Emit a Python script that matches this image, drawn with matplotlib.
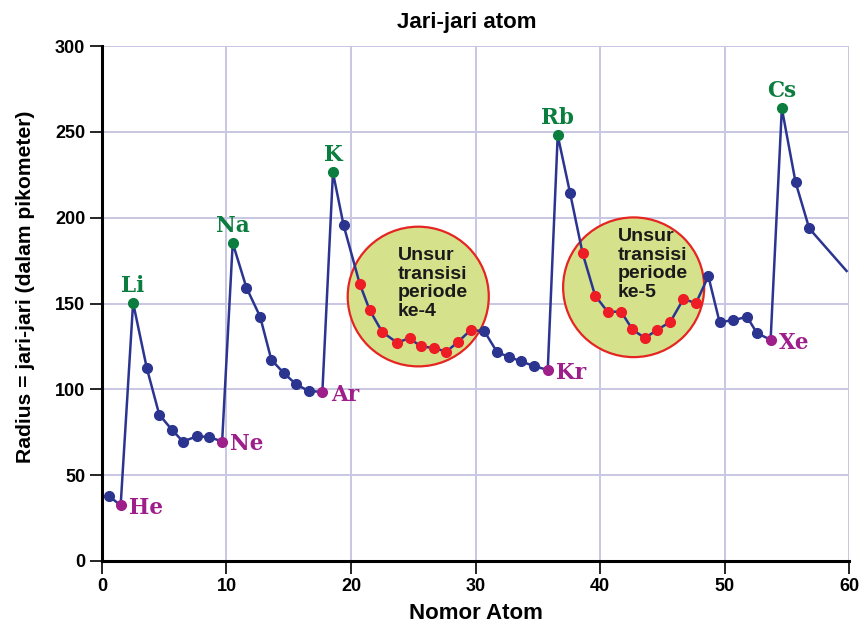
import matplotlib
matplotlib.use("Agg")
import matplotlib.pyplot as plt
from matplotlib.patches import Ellipse

# ---------------- data ----------------
unsur = ["H", "He", "Li", "Be", "B", "C", "N", "O", "F", "Ne",
         "Na", "Mg", "Al", "Si", "P", "S", "Cl", "Ar",
         "K", "Ca", "Sc", "Ti", "V", "Cr", "Mn", "Fe", "Co", "Ni", "Cu", "Zn",
         "Ga", "Ge", "As", "Se", "Br", "Kr",
         "Rb", "Sr", "Y", "Zr", "Nb", "Mo", "Tc", "Ru", "Rh", "Pd", "Ag", "Cd",
         "In", "Sn", "Sb", "Te", "I", "Xe",
         "Cs", "Ba", "La"]
nomor_atom = [0.6, 1.5, 2.5, 3.6, 4.6, 5.6, 6.5, 7.6, 8.6, 9.65,
              10.5, 11.6, 12.7, 13.6, 14.6, 15.6, 16.6, 17.7,
              18.55, 19.4, 20.7, 21.5, 22.5, 23.7, 24.7, 25.6, 26.7, 27.65, 28.6, 29.6,
              30.7, 31.75, 32.7, 33.65, 34.7, 35.8,
              36.6, 37.6, 38.6, 39.6, 40.6, 41.7, 42.6, 43.6, 44.6, 45.65, 46.7, 47.7,
              48.7, 49.6, 50.7, 51.8, 52.6, 53.7,
              54.6, 55.7, 56.8]
radius = [37.6, 32.4, 150.5, 112.4, 85.3, 76.6, 69.6, 72.6, 72.3, 69.6,
          185.3, 159.3, 142.4, 117.3, 109.5, 102.9, 99.1, 98.5,
          226.4, 195.8, 161.5, 146.2, 133.5, 127.2, 129.9, 125.0, 124.1, 121.9, 127.7, 134.5,
          134.0, 121.5, 119.0, 116.3, 113.6, 111.3,
          248.1, 214.2, 179.3, 154.7, 145.3, 145.2, 134.9, 129.9, 134.7, 139.4, 152.7, 150.2,
          165.9, 139.2, 140.3, 142.3, 132.8, 128.9,
          263.8, 220.8, 193.8]
# line continues toward the right edge
ekor_x = [59.8]
ekor_y = [169.0]

logam_alkali = ["Li", "Na", "K", "Rb", "Cs"]
gas_mulia = ["He", "Ne", "Ar", "Kr", "Xe"]
transisi = ["Sc", "Ti", "V", "Cr", "Mn", "Fe", "Co", "Ni", "Cu", "Zn",
            "Y", "Zr", "Nb", "Mo", "Tc", "Ru", "Rh", "Pd", "Ag", "Cd"]

# highlighted regions: circle centre and label
lingkaran_x = [25.4, 42.7]
lingkaran_y = [154.1, 159.5]
lingkaran_teks = ["Unsur\ntransisi\nperiode\nke-4", "Unsur\ntransisi\nperiode\nke-5"]
# label anchor (top-left) of each circle text
teks_x = [23.75, 41.45]
teks_y = [183.0, 194.0]

x_ticks = [0, 10, 20, 30, 40, 50, 60]
y_ticks = [0, 50, 100, 150, 200, 250, 300]

# ---------------- style ----------------
navy = "#2b3590"
merah = "#ee1c25"
hijau = "#0b7d3e"
ungu = "#9e1f8a"
grid_c = "#c9c6e3"

sans = ["Liberation Sans", "DejaVu Sans"]
serif = ["DejaVu Serif"]

fig = plt.figure(figsize=(8.62, 6.24), dpi=100)
ax = fig.add_axes([0.1183, 0.101, 0.8667, 0.825])

ax.set_xlim(0, 60)
ax.set_ylim(0, 300)
ax.set_xticks(x_ticks)
ax.set_yticks(y_ticks)
ax.grid(True, color=grid_c, linewidth=1.4, zorder=0)
ax.set_axisbelow(True)

for s in ["top", "right"]:
    ax.spines[s].set_visible(False)
for s in ["left", "bottom"]:
    ax.spines[s].set_linewidth(2.2)
    ax.spines[s].set_color("black")
ax.tick_params(axis="both", direction="out", length=9, width=1.2, color="black")
ax.tick_params(axis="y", pad=3)
ax.tick_params(axis="x", pad=3)
for lab in ax.get_xticklabels() + ax.get_yticklabels():
    lab.set_family(sans)
    lab.set_fontweight("bold")
    lab.set_fontsize(13)

# circles
for cx, cy, txt, tx, ty in zip(lingkaran_x, lingkaran_y, lingkaran_teks, teks_x, teks_y):
    e = Ellipse((cx, cy), width=11.33, height=81.4, facecolor="#d5e28b",
                edgecolor="#e52521", linewidth=1.6, zorder=2)
    ax.add_patch(e)
    ax.text(tx, ty, txt, family=sans, fontsize=14, fontweight="bold",
            color="#1a1a1a", ha="left", va="top", linespacing=1.13, zorder=3)

# line
ax.plot(nomor_atom + ekor_x, radius + ekor_y, color=navy, linewidth=1.8, zorder=4)

# markers
for nm, x, y in zip(unsur, nomor_atom, radius):
    if nm in logam_alkali:
        c = hijau
    elif nm in gas_mulia:
        c = ungu
    elif nm in transisi:
        c = merah
    else:
        c = navy
    ax.plot([x], [y], "o", color=c, markersize=7, zorder=5, clip_on=False)
    if nm in logam_alkali:
        ax.annotate(nm, (x, y), xytext=(0, 8), textcoords="offset points",
                    ha="center", va="baseline", family=serif, fontweight="bold",
                    fontsize=15.5, color=hijau, zorder=6)
    elif nm in gas_mulia:
        ax.annotate(nm, (x, y), xytext=(6, -2), textcoords="offset points",
                    ha="left", va="center", family=serif, fontweight="bold",
                    fontsize=15.5, color=ungu, zorder=6)

fig.text(0.541, 0.964, "Jari-jari atom", family=sans, fontweight="bold", fontsize=16,
         ha="center", va="center")
ax.set_xlabel("Nomor Atom", family=sans, fontweight="bold", fontsize=16, labelpad=6)
ax.set_ylabel("Radius = jari-jari (dalam pikometer)", family=sans, fontweight="bold",
              fontsize=15.2)
ax.yaxis.set_label_coords(-0.089, 0.532)

fig.savefig("out.png", dpi=100)
